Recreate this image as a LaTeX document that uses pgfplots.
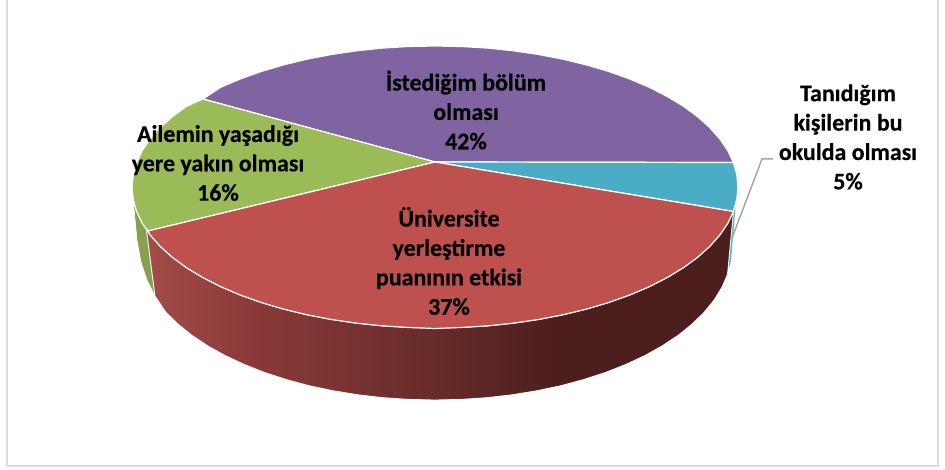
\documentclass[border=0pt]{standalone}
\usepackage{fontspec}
\setmainfont[BoldFeatures={FakeBold=0.35}]{Carlito}
\usepackage{pgfplots}
\pgfplotsset{compat=1.18}
\definecolor{purp}{HTML}{8064A2}
\definecolor{teal1}{HTML}{4BACC6}
\definecolor{red1}{HTML}{BE504D}
\definecolor{green1}{HTML}{9BBB59}
\definecolor{green2}{HTML}{86A04C}
\definecolor{framec}{HTML}{DCDCDC}
\definecolor{leader}{HTML}{A6A6A6}
\definecolor{sideA}{HTML}{A34C48}
\definecolor{sideB}{HTML}{8A3A38}
\definecolor{sideC}{HTML}{682C2A}
\definecolor{sideD}{HTML}{4C1E1D}
\pgfdeclarehorizontalshading{redside}{100bp}{
  color(0bp)=(sideA);
  color(25bp)=(sideA);
  color(34bp)=(sideB);
  color(49bp)=(sideC);
  color(60bp)=(sideD);
  color(100bp)=(sideD)}
\begin{document}
\begin{tikzpicture}
\begin{axis}[
  width=945bp, height=470bp, scale only axis,
  xmin=0, xmax=945, ymin=0, ymax=470,
  y dir=reverse,
  axis lines=none,
  clip=true,
]
% page background and frame
\addplot[fill=white, draw=none] coordinates {(0,0) (945,0) (945,470) (0,470)} \closedcycle;
\addplot[draw=framec, line width=2bp] coordinates {(7,0) (7,466) (938,466) (938,0)};

% side wall: green
\addplot[fill=green2, draw=white, line width=0.6bp] coordinates {
  (133.2,199.3) (136.6,211.5) (142.3,223.5) (146.5,230) (155,296) (147,280) (141,262) (137,240) (133.2,199.3)};
% side wall: teal sliver
\addplot[fill=teal1, draw=white, line width=0.4bp] coordinates {
  (736,205) (733.4,211.5) (728,272) (731,262) (736,205)};
% side wall: red
\addplot[shading=redside, draw=white, line width=0.8bp] coordinates {
  (146.5,230) (155,296) (165.8,312.2) (177.8,324) (191.7,335.2) (207.5,345.7) (225,355.5)
  (244.1,364.4) (264.6,372.5) (286.5,379.6) (309.5,385.8) (333.4,390.8) (358.1,394.8)
  (383.4,397.7) (409.1,399.4) (435,400) (461,399.4) (486.6,397.7) (511.9,394.8)
  (536.6,390.8) (560.5,385.8) (583.5,379.6) (605.4,372.5) (625.9,364.4) (645,355.5)
  (662.5,345.7) (678.3,335.2) (692.2,324) (704.2,312.2) (714.1,300) (721.9,287.3)
  (727.5,274.4) (733.4,211.5)
  (727.7,223.5) (719.7,235.2) (709.6,246.6) (697.4,257.5) (683.2,267.9) (667.1,277.6)
  (649.3,286.7) (629.8,295) (608.8,302.5) (586.5,309.1) (563,314.8) (538.6,319.5)
  (513.4,323.2) (487.6,325.9) (461.4,327.5) (435,328) (408.6,327.5) (382.4,325.9)
  (356.6,323.2) (331.4,319.5) (307,314.8) (283.5,309.1) (261.2,302.5) (240.2,295)
  (220.7,286.7) (202.9,277.6) (186.8,267.9) (172.6,257.5) (160.4,246.6) (150.3,235.2)
  (146.5,230)};

% top faces
\addplot[fill=purp, draw=white, line width=1.2bp] coordinates {
  (435,162) (733.4,162.5) (727.7,150.5) (719.7,138.8) (709.6,127.4) (697.4,116.5)
  (683.2,106.1) (667.1,96.4) (649.3,87.3) (629.8,79) (608.8,71.5) (586.5,64.9) (563,59.2)
  (538.6,54.5) (513.4,50.8) (487.6,48.1) (461.4,46.5) (435,46) (408.6,46.5) (382.4,48.1)
  (356.6,50.8) (331.4,54.5) (307,59.2) (283.5,64.9) (261.2,71.5) (240.2,79) (220.7,87.3)
  (202.9,99) (435,162)};
\addplot[fill=teal1, draw=white, line width=1.2bp] coordinates {
  (435,162) (733.4,162.5) (736.8,174.7) (738,187) (736.8,199.3) (733.4,211.5) (435,162)};
\addplot[fill=green1, draw=white, line width=1.2bp] coordinates {
  (435,162) (202.9,99) (186.8,106.1) (172.6,116.5) (160.4,127.4) (150.3,138.8) (142.3,150.5)
  (136.6,162.5) (133.2,174.7) (132,187) (133.2,199.3) (136.6,211.5) (142.3,223.5)
  (148,231) (435,162)};
\addplot[fill=red1, draw=white, line width=1.2bp] coordinates {
  (435,162) (733.4,211.5) (727.7,223.5) (719.7,235.2) (709.6,246.6) (697.4,257.5)
  (683.2,267.9) (667.1,277.6) (649.3,286.7) (629.8,295) (608.8,302.5) (586.5,309.1)
  (563,314.8) (538.6,319.5) (513.4,323.2) (487.6,325.9) (461.4,327.5) (435,328.5)
  (408.6,327.5) (382.4,325.9) (356.6,323.2) (331.4,319.5) (307,314.8) (283.5,309.1)
  (261.2,302.5) (240.2,295) (220.7,286.7) (202.9,277.6) (186.8,267.9) (172.6,257.5)
  (160.4,246.6) (150.3,235.2) (148,231) (435,162)};

% leader line
\addplot[draw=leader, line width=1.5bp] coordinates {(773,159) (762,159) (732,238)};

% labels
\tikzset{lab/.style={align=center, font=\fontsize{24}{29.5}\selectfont\bfseries, inner sep=0pt}}
\node[lab] at (axis cs:466,110) {İstediğim bölüm\\olması\\42\%};
\node[lab] at (axis cs:218,163) {Ailemin yaşadığı\\yere yakın olması\\16\%};
\node[lab] at (axis cs:449,261) {Üniversite\\yerleştirme\\puanının etkisi\\37\%};
\node[lab] at (axis cs:848,137) {Tanıdığım\\kişilerin bu\\okulda olması\\5\%};
\end{axis}
\end{tikzpicture}
\end{document}
